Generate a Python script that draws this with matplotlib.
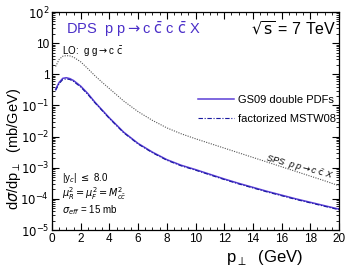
import numpy as np
import matplotlib
matplotlib.use("Agg")
import matplotlib.pyplot as plt
from matplotlib.ticker import MultipleLocator, LogLocator, NullFormatter

plt.rcParams["font.family"] = ["Liberation Sans", "DejaVu Sans"]
plt.rcParams["mathtext.fontset"] = "dejavusans"

# transverse momentum grid (GeV)
pt = [0.25, 0.5, 0.75, 1.0, 1.25, 1.5, 2.0, 2.5, 3.0, 3.5, 4.0, 5.0, 6.0, 7.0,
      8.0, 9.0, 10.0, 11.0, 12.0, 13.0, 14.0, 15.0, 16.0, 17.0, 18.0, 19.0, 20.0]

# log10 of dsigma/dpt (mb/GeV)
gs09_log = [-0.48, -0.26, -0.13, -0.11, -0.14, -0.2, -0.38, -0.62, -0.9, -1.15,
            -1.4, -1.86, -2.22, -2.5, -2.74, -2.92, -3.06, -3.21, -3.36, -3.5,
            -3.63, -3.76, -3.88, -4.0, -4.11, -4.22, -4.33]
mstw_log = [-0.52, -0.3, -0.17, -0.15, -0.17, -0.23, -0.41, -0.65, -0.92, -1.17,
            -1.42, -1.88, -2.24, -2.52, -2.76, -2.94, -3.08, -3.23, -3.38, -3.52,
            -3.65, -3.78, -3.9, -4.02, -4.13, -4.24, -4.35]
sps_log = [0.25, 0.48, 0.58, 0.6, 0.59, 0.55, 0.4, 0.18, -0.05, -0.26, -0.46,
           -0.86, -1.2, -1.48, -1.72, -1.91, -2.07, -2.22, -2.37, -2.52, -2.67,
           -2.82, -2.97, -3.12, -3.27, -3.42, -3.58]

gs09 = 10 ** np.array(gs09_log)
mstw = 10 ** np.array(mstw_log)
sps = 10 ** np.array(sps_log)

fig = plt.figure(figsize=(3.45, 2.70), dpi=100)
ax = fig.add_axes([52 / 345, 1 - 230 / 270, 287 / 345, 218 / 270])

ax.plot(pt, sps, color="#555555", lw=0.8, ls=(0, (1, 1.2)))
ax.plot(pt, gs09, color="#5b3fd6", lw=1.1, label="GS09 double PDFs")
ax.plot(pt, mstw, color="#1a1aa0", lw=0.8, ls=(0, (4, 1.5, 1, 1.5)),
        label="factorized MSTW08")

ax.set_yscale("log")
ax.set_xlim(0, 20)
ax.set_ylim(1e-5, 1e2)

ax.xaxis.set_major_locator(MultipleLocator(2))
ax.xaxis.set_minor_locator(MultipleLocator(0.5))
ax.yaxis.set_minor_locator(LogLocator(base=10, subs=np.arange(2, 10), numticks=20))
ax.yaxis.set_minor_formatter(NullFormatter())

ylabels = {1e2: "$10^{2}$", 1e1: "10", 1e0: "1"}
ax.set_yticks([10.0 ** k for k in range(-5, 3)])
ax.set_yticklabels([ylabels.get(10.0 ** k, "$10^{%d}$" % k) for k in range(-5, 3)])

ax.tick_params(which="both", direction="in", top=True, right=True, labelsize=8.5, pad=2)
ax.tick_params(which="major", length=5, width=0.8)
ax.tick_params(which="minor", length=2.5, width=0.6)
for s in ax.spines.values():
    s.set_linewidth(0.9)

ax.set_xlabel(r"p$_\perp$  (GeV)", fontsize=12, labelpad=2, x=0.74)
ax.set_ylabel(r"d$\sigma$/dp$_\perp$  (mb/GeV)", fontsize=10.5)
ax.yaxis.set_label_coords(-0.1, 0.37)

ax.text(0.05, 0.962, r"DPS  p p$\rightarrow$c $\bar{\mathrm{c}}$ c $\bar{\mathrm{c}}$ X",
        transform=ax.transAxes, color="#4a2ec8", fontsize=10.5, va="top")
ax.text(0.99, 0.965, r"$\sqrt{\mathrm{s}}$ = 7 TeV", transform=ax.transAxes,
        fontsize=11.5, va="top", ha="right")
ax.text(0.035, 0.85, r"LO:  g g$\rightarrow$c $\bar{\mathrm{c}}$", transform=ax.transAxes,
        fontsize=7, va="top")

ax.legend(loc="upper right", bbox_to_anchor=(1.025, 0.665), fontsize=8, frameon=False,
          handlelength=3.3, labelspacing=0.8, handletextpad=0.35)

ax.text(0.035, 0.225, r"|y$_c$| $\leq$ 8.0", transform=ax.transAxes, fontsize=7)
ax.text(0.035, 0.15, r"$\mu_R^2 = \mu_F^2 = M_{c\bar{c}}^2$", transform=ax.transAxes,
        fontsize=7)
ax.text(0.035, 0.075, r"$\sigma_{eff}$ = 15 mb", transform=ax.transAxes, fontsize=7)

ax.text(0.862, 0.285, r"SPS  p p$\rightarrow$c $\bar{\mathrm{c}}$ X", transform=ax.transAxes,
        fontsize=6.5, rotation=-15, style="italic", ha="center", va="center")

fig.savefig("out.png", dpi=100)
